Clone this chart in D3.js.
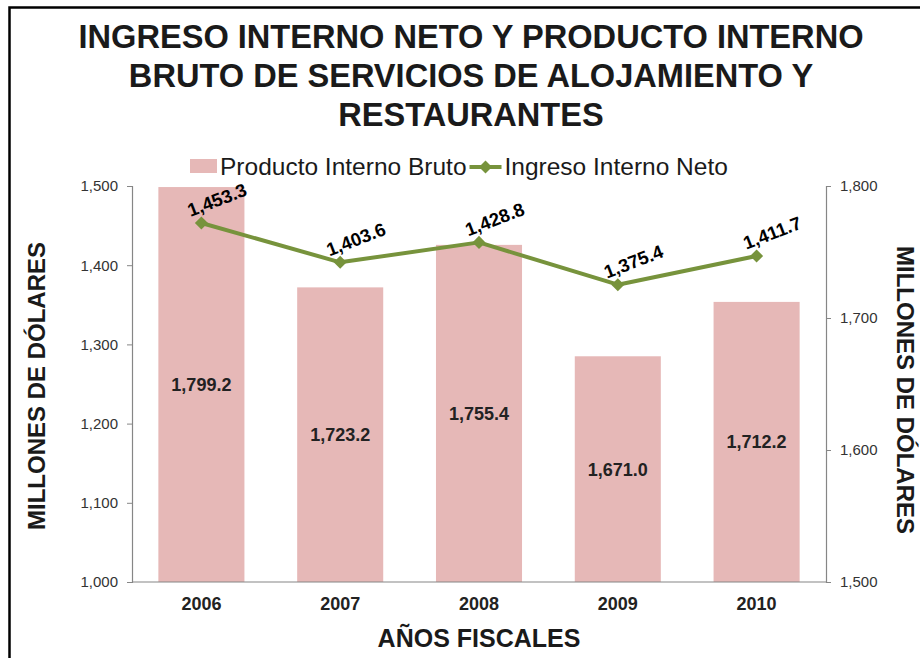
<!DOCTYPE html>
<html><head><meta charset="utf-8">
<script src="https://cdn.jsdelivr.net/npm/d3@7"></script>
<style>
html,body{margin:0;padding:0;background:#fff;}
svg{display:block;font-family:"Liberation Sans",Arial,sans-serif;}
</style></head>
<body><svg id="c" width="920" height="658"></svg>
<script>
const years = ["2006", "2007", "2008", "2009", "2010"];
const pibValues = [1799.2, 1723.2, 1755.4, 1671.0, 1712.2];
const iinValues = [1453.3, 1403.6, 1428.8, 1375.4, 1411.7];
const leftTicks = [1000, 1100, 1200, 1300, 1400, 1500];
const rightTicks = [1500, 1600, 1700, 1800];
const titleLines = ["INGRESO INTERNO NETO Y PRODUCTO INTERNO", "BRUTO DE SERVICIOS DE ALOJAMIENTO Y", "RESTAURANTES"];
const seriesNames = ["Producto Interno Bruto", "Ingreso Interno Neto"];

const barColor = "#E6B8B7", lineColor = "#77933C", axisColor = "#868686";
const svg = d3.select("#c");

// frame
svg.append("rect").attr("x", 9.5).attr("y", 7.5).attr("width", 940).attr("height", 700)
  .attr("fill", "#fff").attr("stroke", "#000").attr("stroke-width", 2.5);

const L = 132, R = 826, T = 186, B = 582;
const x = d3.scaleBand().domain(years).range([L, R]).paddingInner(0.38).paddingOuter(0.19);
const yL = d3.scaleLinear().domain([1000, 1500]).range([B, T]);
const yR = d3.scaleLinear().domain([1500, 1800]).range([B, T]);

// title
svg.append("g").selectAll("text").data(titleLines).join("text")
  .attr("x", 471).attr("y", (d, i) => 48 + i * 39)
  .attr("text-anchor", "middle").attr("font-weight", "bold").attr("font-size", 32.6)
  .attr("fill", "#1a1a1a").text(d => d);

// bars
svg.append("g").selectAll("rect").data(years).join("rect")
  .attr("x", d => x(d)).attr("width", x.bandwidth())
  .attr("y", (d, i) => yR(pibValues[i])).attr("height", (d, i) => B - yR(pibValues[i]))
  .attr("fill", barColor);

// axes
const fmt = d3.format(",");
const gL = svg.append("g").attr("transform", `translate(${L},0)`)
  .call(d3.axisLeft(yL).tickValues(leftTicks).tickFormat(fmt).tickSize(5).tickPadding(9));
const gR = svg.append("g").attr("transform", `translate(${R},0)`)
  .call(d3.axisRight(yR).tickValues(rightTicks).tickFormat(fmt).tickSize(5).tickPadding(9));
const gB = svg.append("g").attr("transform", `translate(0,${B})`)
  .call(d3.axisBottom(x).tickSize(0).tickPadding(15));
[gL, gR, gB].forEach(g => {
  g.select(".domain").attr("stroke", axisColor).attr("stroke-width", 1.2);
  g.selectAll(".tick line").attr("stroke", axisColor);
  g.selectAll("text").attr("font-family", "Liberation Sans, Arial, sans-serif");
});
[gL, gR].forEach(g => g.selectAll("text").attr("font-size", 15).attr("fill", "#333"));
gB.select(".domain").attr("d", `M${L},0H${R}`);
gB.selectAll("text").attr("font-size", 18).attr("font-weight", "bold").attr("fill", "#222");

// axis titles
svg.append("text").attr("transform", "translate(45,386) rotate(-90)")
  .attr("text-anchor", "middle").attr("font-weight", "bold").attr("font-size", 24)
  .attr("fill", "#1a1a1a").text("MILLONES DE DÓLARES");
svg.append("text").attr("transform", "translate(897,390) rotate(90)")
  .attr("text-anchor", "middle").attr("font-weight", "bold").attr("font-size", 24)
  .attr("fill", "#1a1a1a").text("MILLONES DE DÓLARES");
svg.append("text").attr("x", 479).attr("y", 647)
  .attr("text-anchor", "middle").attr("font-weight", "bold").attr("font-size", 25)
  .attr("fill", "#1a1a1a").text("AÑOS FISCALES");

// bar labels
const f1 = d3.format(",.1f");
svg.append("g").selectAll("text").data(years).join("text")
  .attr("x", d => x(d) + x.bandwidth() / 2)
  .attr("y", (d, i) => (yR(pibValues[i]) + B) / 2 + 6.5)
  .attr("text-anchor", "middle").attr("font-weight", "bold").attr("font-size", 18)
  .attr("fill", "#222").text((d, i) => f1(pibValues[i]));

// line
const cx = d => x(d) + x.bandwidth() / 2;
const line = d3.line().x(d => cx(d)).y((d, i) => yL(iinValues[i]));
svg.append("path").datum(years).attr("d", line)
  .attr("fill", "none").attr("stroke", lineColor).attr("stroke-width", 4).attr("stroke-linejoin", "round");
const diamond = d3.symbol().type(d3.symbolSquare).size(85);
svg.append("g").selectAll("path").data(years).join("path")
  .attr("d", diamond)
  .attr("transform", (d, i) => `translate(${cx(d)},${yL(iinValues[i])}) rotate(45)`)
  .attr("fill", lineColor);
svg.append("g").selectAll("text").data(years).join("text")
  .attr("transform", (d, i) => `translate(${cx(d) + 18},${yL(iinValues[i]) - 17}) rotate(-21)`)
  .attr("text-anchor", "middle").attr("font-weight", "bold").attr("font-size", 18.5)
  .attr("fill", "#000").text((d, i) => f1(iinValues[i]));

// legend
const lg = svg.append("g");
lg.append("rect").attr("x", 190).attr("y", 159).attr("width", 27).attr("height", 14).attr("fill", barColor);
const t1 = lg.append("text").attr("x", 220).attr("y", 175).attr("font-size", 24.5).attr("fill", "#1a1a1a").text(seriesNames[0]);
const w1 = t1.node().getComputedTextLength();
const mx = 220 + w1 + 3;
lg.append("line").attr("x1", mx).attr("x2", mx + 32).attr("y1", 167).attr("y2", 167)
  .attr("stroke", lineColor).attr("stroke-width", 4);
lg.append("path").attr("d", diamond).attr("transform", `translate(${mx + 16},167) rotate(45)`).attr("fill", lineColor);
lg.append("text").attr("x", mx + 35).attr("y", 175).attr("font-size", 24.5).attr("fill", "#1a1a1a").text(seriesNames[1]);
</script></body></html>
